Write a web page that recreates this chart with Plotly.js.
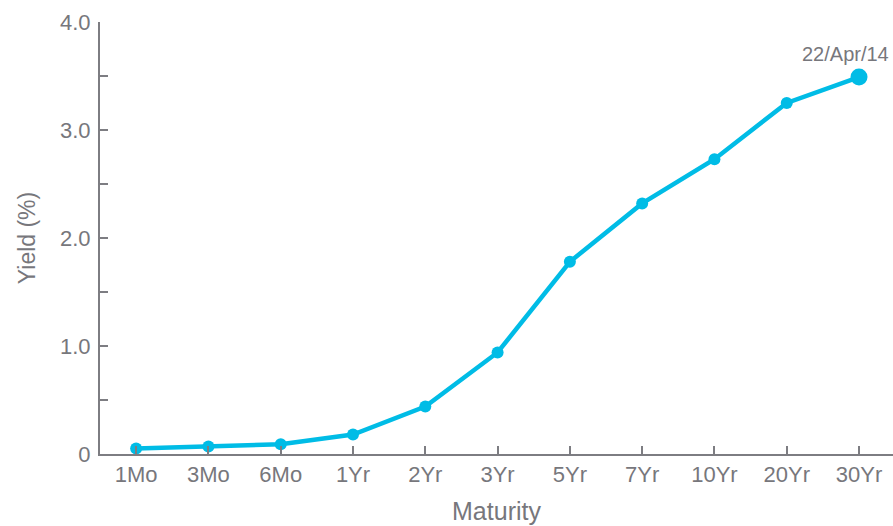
<!DOCTYPE html>
<html>
<head>
<meta charset="utf-8">
<script src="https://cdn.plot.ly/plotly-3.0.1.min.js"></script>
<style>html,body{margin:0;padding:0;background:#fff;}#chart{width:893px;height:526px;}</style>
</head>
<body>
<div id="chart"></div>
<script>
const maturities = ["1Mo","3Mo","6Mo","1Yr","2Yr","3Yr","5Yr","7Yr","10Yr","20Yr","30Yr"];
const yields = [0.05, 0.07, 0.09, 0.18, 0.44, 0.94, 1.78, 2.32, 2.73, 3.25, 3.49];
const yTickVals = [0, 0.5, 1, 1.5, 2, 2.5, 3, 3.5, 4];
const yTickText = ["0", "", "1.0", "", "2.0", "", "3.0", "", "4.0"];
const dateLabel = "22/Apr/14";

const lineColor = "#00bce6";
const gray = "#77777c";
const axisGray = "#7d7d82";
const n = maturities.length;

const sizes = maturities.map((m, i) => i === n - 1 ? 17 : 12);

const trace = {
  x: maturities,
  y: yields,
  type: "scatter",
  mode: "lines+markers",
  line: {color: lineColor, width: 4.5},
  marker: {color: lineColor, size: sizes, opacity: 1, line: {width: 0}},
  cliponaxis: false,
  hoverinfo: "skip"
};

const layout = {
  width: 893,
  height: 526,
  margin: {l: 100, r: 0, t: 22, b: 72, pad: 0},
  paper_bgcolor: "#fff",
  plot_bgcolor: "#fff",
  showlegend: false,
  font: {family: "Arial, 'Liberation Sans', sans-serif", color: gray},
  xaxis: {
    type: "category",
    range: [-0.5, 10.47],
    showgrid: false,
    zeroline: false,
    showline: true,
    linecolor: axisGray,
    linewidth: 2,
    ticks: "inside",
    ticklen: 8,
    tickwidth: 2,
    tickcolor: axisGray,
    tickfont: {size: 22, color: gray},
    ticklabelstandoff: 0,
    title: {text: "Maturity", font: {size: 25, color: gray}, standoff: 16}
  },
  yaxis: {
    range: [0, 4],
    tickmode: "array",
    tickvals: yTickVals,
    ticktext: yTickText,
    showgrid: false,
    zeroline: false,
    showline: true,
    linecolor: axisGray,
    linewidth: 2,
    ticks: "inside",
    ticklen: 8,
    tickwidth: 2,
    tickcolor: axisGray,
    tickfont: {size: 22, color: gray},
    ticklabelstandoff: 3,
    title: {text: "Yield (%)", font: {size: 23, color: gray}, standoff: 18}
  },
  annotations: [{
    x: maturities[n - 1],
    y: yields[n - 1],
    xref: "x",
    yref: "y",
    text: dateLabel,
    showarrow: false,
    xanchor: "center",
    yanchor: "middle",
    xshift: -14,
    yshift: 23,
    font: {size: 20, color: gray}
  }]
};

Plotly.newPlot("chart", [trace], layout, {displayModeBar: false, staticPlot: true});
</script>
</body>
</html>
